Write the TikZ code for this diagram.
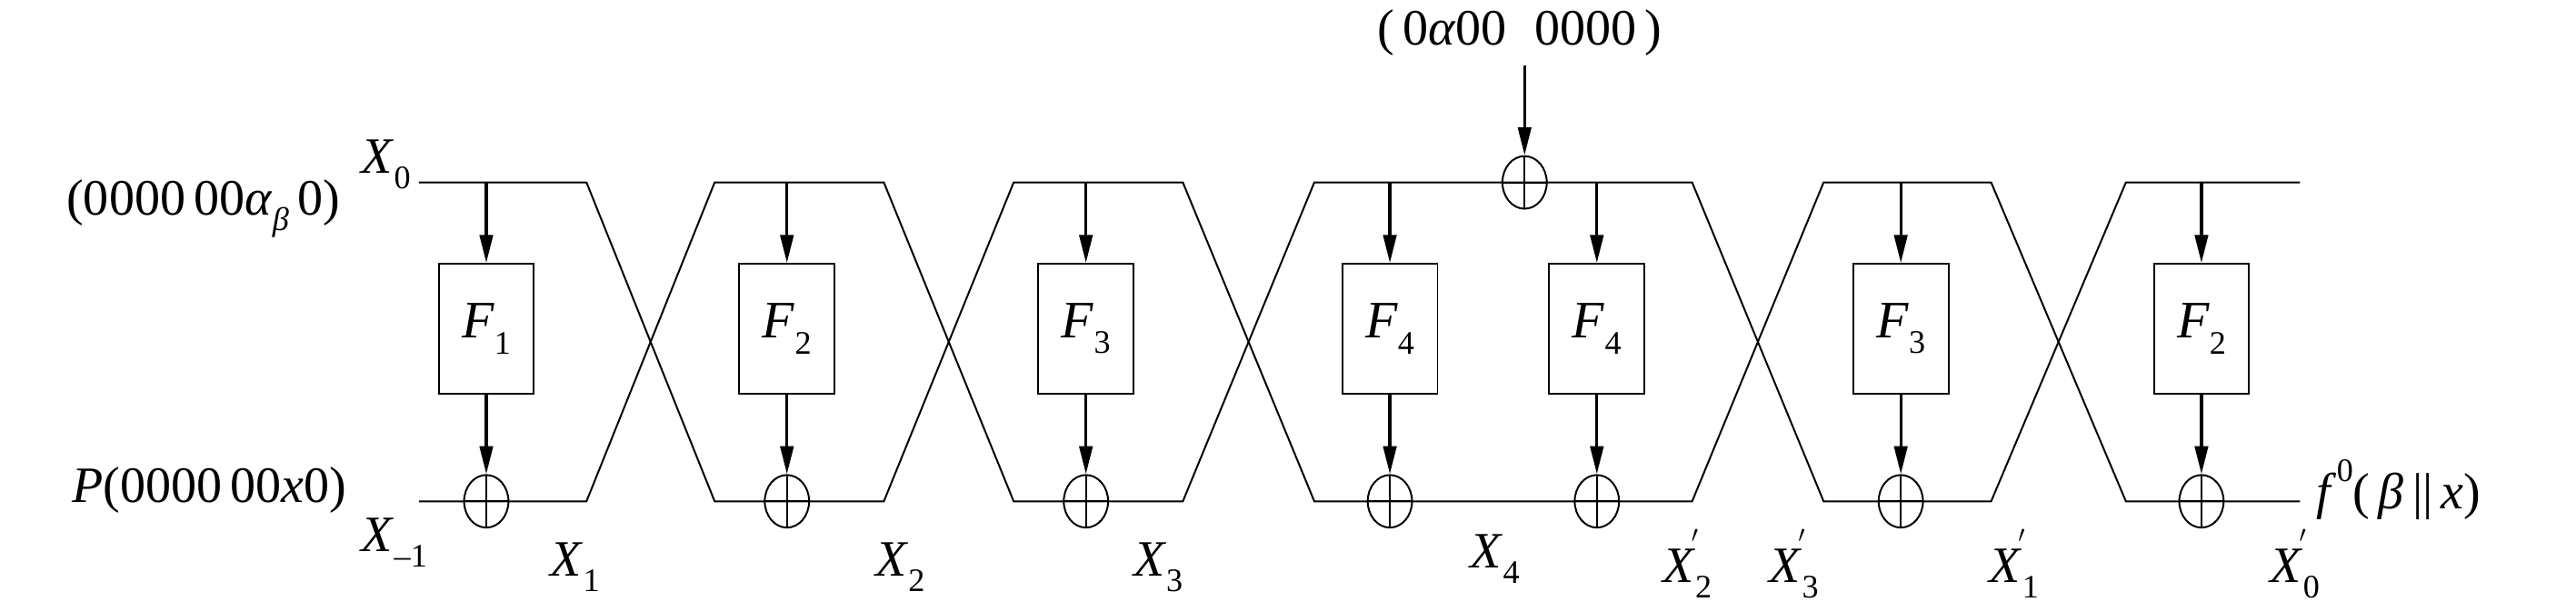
\documentclass[tikz,border=0pt]{standalone}
\usepackage{fontspec}
\setmainfont{Liberation Serif}
\usetikzlibrary{arrows.meta,shapes.geometric}
\newcommand{\vi}[1]{\textit{#1}}
\newcommand{\sbs}[1]{\raisebox{-0.3em}{\fontsize{20}{20}\selectfont #1}}
\newcommand{\sps}[1]{\raisebox{0.55em}{\fontsize{20}{20}\selectfont #1}}
\begin{document}
\begin{tikzpicture}[x=1pt,y=-1pt,
  wire/.style={line width=1.1pt},
  arr/.style={line width=1.8pt,-{Triangle[length=17pt,width=8pt]}},
  fbox/.style={draw,line width=1.1pt,minimum width=58pt,minimum height=79pt,inner sep=0pt,font=\fontsize{32}{32}\selectfont},
  xorn/.style={draw,ellipse,line width=1.1pt,minimum width=27pt,minimum height=32pt,inner sep=0pt,
    path picture={\draw[line width=1pt] (path picture bounding box.north)--(path picture bounding box.south) (path picture bounding box.west)--(path picture bounding box.east);}},
  lab/.style={font=\fontsize{31}{31}\selectfont,inner sep=0pt}]
\useasboundingbox (0,0) rectangle (1568,372);
% wires
\draw[wire] (255,111)--(357,111)--(435,305)--(538,305)--(617,111)--(720,111)--(800,305)--(1030,305)--(1110,111)--(1212,111)--(1294,305)--(1400,305);
\draw[wire] (255,305)--(357,305)--(435,111)--(538,111)--(617,305)--(720,305)--(800,111)--(1030,111)--(1110,305)--(1212,305)--(1294,111)--(1400,111);
% boxes
\foreach \n/\x/\s in {a/296/1,b/479/2,c/661/3,d/846/4,e/972/4,f/1157/3,g/1340/2}{
  \node[fbox] (F\n) at (\x,200) {\vi{F}\sbs{\s}};
  \node[xorn] (O\n) at (\x,305) {};
  \coordinate (T\n) at (\x,111);
  \draw[arr] (T\n)--(F\n.north);
  \draw[arr] (F\n.south)--(O\n.north);
}
\node[xorn] (Otop) at (928,111) {};
\node[lab] (K) at (925,20) {(\,0\vi{α}00\;\;0000\,)};
\coordinate (Ks) at (928,40);
\draw[arr] (Ks)--(Otop.north);
% labels
\node[lab,anchor=east] (L1) at (207,127) {(0000\,00\vi{α}\sbs{\vi{β}}\,0)};
\node[lab] (X0) at (235,100) {\vi{X}\sbs{0}};
\node[lab,anchor=east] (L2) at (211,298) {\vi{P}(0000\,00\vi{x}0)};
\node[lab] (Xm) at (240,330) {\vi{X}\sbs{--1}};
\node[lab] (X1) at (350,345) {\vi{X}\sbs{1}};
\node[lab] (X2) at (548,345) {\vi{X}\sbs{2}};
\node[lab] (X3) at (705,345) {\vi{X}\sbs{3}};
\node[lab] (X4) at (910,340) {\vi{X}\sbs{4}};
\node[lab] (Y2) at (1023,343) {\vi{X}\sbs{2}\hspace{-0.4em}\sps{$'$}};
\node[lab] (Y3) at (1088,343) {\vi{X}\sbs{3}\hspace{-0.4em}\sps{$'$}};
\node[lab] (Y1) at (1222,343) {\vi{X}\sbs{1}\hspace{-0.4em}\sps{$'$}};
\node[lab] (Y0) at (1393,343) {\vi{X}\sbs{0}\hspace{-0.4em}\sps{$'$}};
\node[lab,anchor=west] (R) at (1410,298) {\vi{f}\sps{0}(\,\vi{β}\,||\,\vi{x})};
\end{tikzpicture}
\end{document}
